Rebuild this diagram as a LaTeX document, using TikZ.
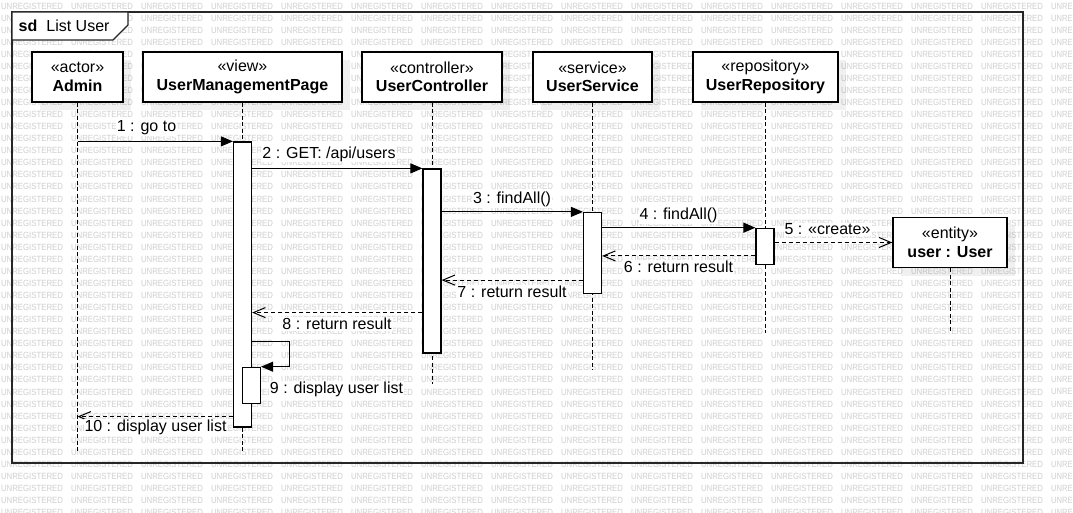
\documentclass[tikz,border=0pt]{standalone}
\usepackage{fontspec}
\setmainfont{Liberation Sans}
\usetikzlibrary{arrows.meta,calc,shadows}
\begin{document}
\begin{tikzpicture}[x=1pt,y=-1pt,
  every node/.style={font=\fontsize{16}{18.5}\selectfont},
  wm/.style={font=\fontsize{9}{9}\selectfont, text=black!19, inner sep=0pt},
  head/.style={draw=black, line width=1.3pt, fill=white, minimum height=50pt, inner sep=0pt, align=center,
    drop shadow={shadow xshift=8pt, shadow yshift=-8pt, fill=black, opacity=0.06}},
  act/.style={draw=black, line width=1.2pt, fill=white, minimum width=18pt, inner sep=0pt},
  lifeline/.style={line width=1pt, dash pattern=on 4pt off 2.5pt},
  msg/.style={line width=1pt, -{Triangle[length=12pt,width=10pt]}},
  ret/.style={line width=1pt, dash pattern=on 4pt off 3pt, -{Straight Barb[length=12pt,width=10pt]}},
  lbl/.style={inner sep=1pt, fill=white}
]
\useasboundingbox (0,0) rectangle (1073,513);
\fill[white] (0,0) rectangle (1073,513);
% watermark
\foreach \r in {0,...,42} {
  \foreach \c in {0,...,14} {
    \node[wm] (wm-\r-\c) at (70*\c+32, 6+12.06*\r) {\scalebox{0.867}[1]{UNREGISTERED}};
  }
  \node[wm, anchor=west] (wm-\r-15) at (1051, 6+12.06*\r) {\scalebox{0.84}[1]{UNRE}};
}
% frame
\draw[line width=1.3pt, draw=black!85] (12,12) rectangle (1023,463);
\draw[line width=1.2pt, draw=black!85, fill=white] (12,12) -- (128,12) -- (128,25) -- (113,40) -- (12,40) -- cycle;
\node[inner sep=0pt, anchor=west] (title) at (18.5,25.5) {\textbf{sd}\hspace{9pt}List User};

% lifeline heads
\node[head, minimum width=91pt]  (admin) at (77.5,77)  {«actor»\\\textbf{Admin}};
\node[head, minimum width=199pt] (ump)   at (242.5,77) {«view»\\\textbf{UserManagementPage}};
\node[head, minimum width=140pt] (uc)    at (432,77)   {«controller»\\\textbf{UserController}};
\node[head, minimum width=119pt] (us)    at (592.5,77) {«service»\\\textbf{UserService}};
\node[head, minimum width=145pt] (ur)    at (765.5,77) {«repository»\\\textbf{UserRepository}};

% lifeline ends
\coordinate (adminEnd) at (77.5,452);
\coordinate (umpEnd) at (242.5,452);
\coordinate (ucEnd) at (432,384);
\coordinate (usEnd) at (592.5,370);
\coordinate (urEnd) at (765.5,333);
\coordinate (entEnd) at (950,331);

\draw[lifeline] (admin.south) -- (adminEnd);
\draw[lifeline] (ump.south) -- (umpEnd);
\draw[lifeline] (uc.south) -- (ucEnd);
\draw[lifeline] (us.south) -- (usEnd);
\draw[lifeline] (ur.south) -- (urEnd);

% entity
\node[head, minimum width=114pt] (entity) at (950,242.5) {«entity»\\\textbf{user : User}};
\draw[lifeline] (entity.south) -- (entEnd);

% activations
\node[act, minimum height=285pt] (actUMP) at (242.5,284.5) {};
\node[act, minimum height=184pt] (actUC) at (432,261) {};
\node[act, minimum height=81pt] (actUS) at (592.5,253) {};
\node[act, minimum height=36pt] (actUR) at (765,246.3) {};
\node[act, minimum height=36pt] (actSelf) at (251.5,385.3) {};

% messages
\draw[msg] (admin |- actUMP.north) -- (actUMP.north west);
\draw[msg] (actUMP.east |- actUC.north) -- (actUC.north west);
\draw[msg] (actUC.east |- actUS.north) -- (actUS.north west);
\draw[msg] (actUS.east |- actUR.north) -- (actUR.north west);
\draw[ret] (actUR.east |- entity.west) -- (entity.west);
\coordinate (r6) at ($(actUR.south west)+(0,-9)$);
\draw[ret] (r6) -- (actUS.east |- r6);
\coordinate (r7) at ($(actUS.south west)+(0,-14)$);
\draw[ret] (r7) -- (actUC.east |- r7);
\coordinate (r8) at ($(actUC.south west)+(0,-41)$);
\draw[ret] (r8) -- (actUMP.east |- r8);
\coordinate (s9) at ($(actUMP.east |- actSelf.north)+(0,-25)$);
\draw[msg] (s9) -- ++(37,0) |- (actSelf.north east);
\coordinate (r10) at ($(actUMP.south west)+(0,-11)$);
\draw[ret] (r10) -- (admin |- r10);

% labels
\node[lbl] (l1) at (146.5,127.5) {1 : go to};
\node[lbl] (l2) at (329,154) {2 : GET: /api/users};
\node[lbl] (l3) at (512,199.5) {3 : findAll()};
\node[lbl] (l4) at (678.5,215.5) {4 : findAll()};
\node[lbl] (l5) at (827.5,229.5) {5 : «create»};
\node[lbl] (l6) at (678.5,267) {6 : return result};
\node[lbl] (l7) at (512,292) {7 : return result};
\node[lbl] (l8) at (337,324) {8 : return result};
\node[lbl] (l9) at (336.5,389) {9 : display user list};
\node[lbl] (l10) at (155.5,427.5) {10 : display user list};
\end{tikzpicture}
\end{document}
